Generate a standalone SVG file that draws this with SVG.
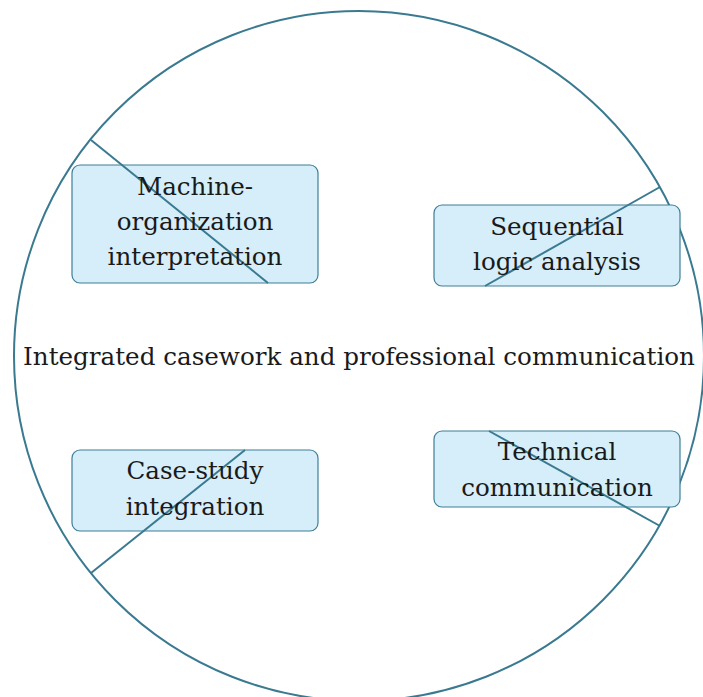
<svg xmlns="http://www.w3.org/2000/svg" width="703" height="697" viewBox="0 0 703 697">
<style>
.box{fill:#d5eef9;stroke:#3e7f96;stroke-width:1.2}
.ring{fill:none;stroke:#3a7a90;stroke-width:2}
.link{stroke:#3a7a90;stroke-width:2;fill:none}
.t{font-family:'DejaVu Serif',serif;font-size:24.6px;fill:#1a1a1a;text-anchor:middle}
</style>
<rect width="703" height="697" fill="#ffffff"/>
<g id="hub">
<circle class="ring" cx="359" cy="356" r="345"/>
<text class="t" x="359" y="365">Integrated casework and professional communication</text>
</g>
<g id="machine">
<rect class="box" x="72" y="165" width="246" height="118" rx="8"/>
</g>
<g id="sequential">
<rect class="box" x="434" y="205" width="246" height="81" rx="8"/>
</g>
<g id="casestudy">
<rect class="box" x="72" y="450" width="246" height="81" rx="8"/>
</g>
<g id="technical">
<rect class="box" x="434" y="431" width="246" height="76" rx="8"/>
</g>
<g id="connectors">
<line class="link" x1="91" y1="140" x2="268" y2="283"/>
<line class="link" x1="660" y1="187" x2="485" y2="286"/>
<line class="link" x1="91" y1="573" x2="245" y2="450"/>
<line class="link" x1="660" y1="526" x2="489" y2="431"/>
</g>
<g id="labels">
<text class="t" x="195" y="195">Machine-</text>
<text class="t" x="195" y="230">organization</text>
<text class="t" x="195" y="265">interpretation</text>
<text class="t" x="557" y="235">Sequential</text>
<text class="t" x="557" y="270">logic analysis</text>
<text class="t" x="195" y="479">Case-study</text>
<text class="t" x="195" y="515">integration</text>
<text class="t" x="557" y="460">Technical</text>
<text class="t" x="557" y="496">communication</text>
</g>
</svg>
